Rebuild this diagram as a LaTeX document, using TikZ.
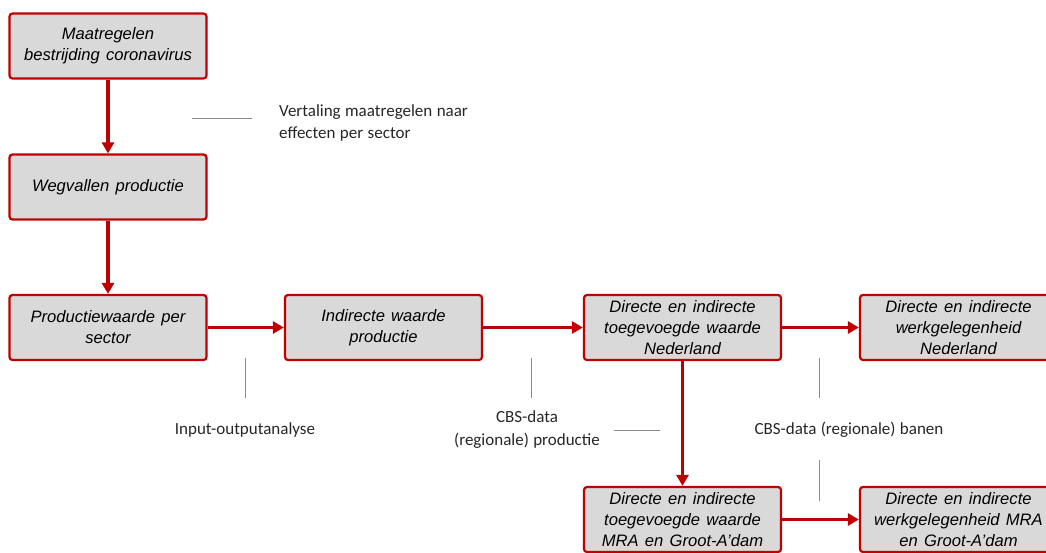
\documentclass[tikz,border=0pt]{standalone}
\usepackage{fontspec}
\setmainfont{Liberation Sans}[WordSpace=1.35]
\newfontfamily\notefont{Carlito}[WordSpace=1.15]
\usepackage{tikz}
\usetikzlibrary{arrows.meta, positioning}
\definecolor{maatred}{RGB}{192,0,0}
\definecolor{boxgray}{RGB}{217,217,217}
\definecolor{leadgray}{RGB}{140,140,140}

\begin{document}
\begin{tikzpicture}[x=1pt, y=-1pt,
    stage/.style={rectangle, draw=maatred, line width=2.2pt, fill=boxgray, rounded corners=3pt,
                  minimum width=197pt, minimum height=65pt, inner sep=1pt, align=center,
                  font=\fontsize{16.6}{21}\selectfont\itshape},
    flow/.style={draw=maatred, line width=3.5pt, -{Triangle[length=11pt, width=12pt]}},
    note/.style={font=\notefont\fontsize{17}{22.5}\selectfont, text=black!85, inner sep=0pt},
    leader/.style={draw=leadgray, line width=0.9pt}
]
    \useasboundingbox (0,0) rectangle (1046,552);

    % hoofdketen
    \node[stage] (maatregelen) at (108,46) {Maatregelen\\bestrijding coronavirus};
    \node[stage] (wegvallen) at (108,187) {Wegvallen productie};
    \node[stage] (productie) at (108,327.5) {Productiewaarde per\\sector};
    \node[stage] (indirect) at (383.5,327.5) {Indirecte waarde\\productie};
    \node[stage] (toegevoegdNL) at (682.5,327.5) {Directe en indirecte\\toegevoegde waarde\\Nederland};
    \node[stage] (werkNL) at (958.5,327.5) {Directe en indirecte\\werkgelegenheid\\Nederland};
    \node[stage] (toegevoegdMRA) at (682.5,519.5) {Directe en indirecte\\toegevoegde waarde\\MRA en Groot-A’dam};
    \node[stage] (werkMRA) at (958.5,519.5) {Directe en indirecte\\werkgelegenheid MRA\\en Groot-A’dam};

    \draw[flow] (maatregelen) -- (wegvallen);
    \draw[flow] (wegvallen) -- (productie);
    \draw[flow] (productie) -- (indirect);
    \draw[flow] (indirect) -- (toegevoegdNL);
    \draw[flow] (toegevoegdNL) -- (werkNL);
    \draw[flow] (toegevoegdNL) -- (toegevoegdMRA);
    \draw[flow] (toegevoegdMRA) -- (werkMRA);

    % toelichting
    \node[note, anchor=west, align=left] (vertaling) at (279,123) {Vertaling maatregelen naar\\effecten per sector};
    \node[note] (ioanalyse) at (245,430) {Input-outputanalyse};
    \node[note, align=center] (cbsproductie) at (527,429.5) {CBS-data\\(regionale) productie};
    \node[note] (cbsbanen) at (849,430) {CBS-data (regionale) banen};

    \coordinate (vertaling-a) at (192,118);
    \coordinate (vertaling-b) at (252,118);
    \coordinate (io-a) at (245,358);
    \coordinate (io-b) at (245,398);
    \coordinate (cbsp-a) at (531,358);
    \coordinate (cbsp-b) at (531,398);
    \coordinate (cbsp-c) at (614,430);
    \coordinate (cbsp-d) at (660,430);
    \coordinate (cbsb-a) at (819,358);
    \coordinate (cbsb-b) at (819,398);
    \coordinate (cbsb-c) at (819,460);
    \coordinate (cbsb-d) at (819,501);

    \draw[leader] (vertaling-a) -- (vertaling-b);
    \draw[leader] (io-a) -- (io-b);
    \draw[leader] (cbsp-a) -- (cbsp-b);
    \draw[leader] (cbsp-c) -- (cbsp-d);
    \draw[leader] (cbsb-a) -- (cbsb-b);
    \draw[leader] (cbsb-c) -- (cbsb-d);
\end{tikzpicture}
\end{document}
